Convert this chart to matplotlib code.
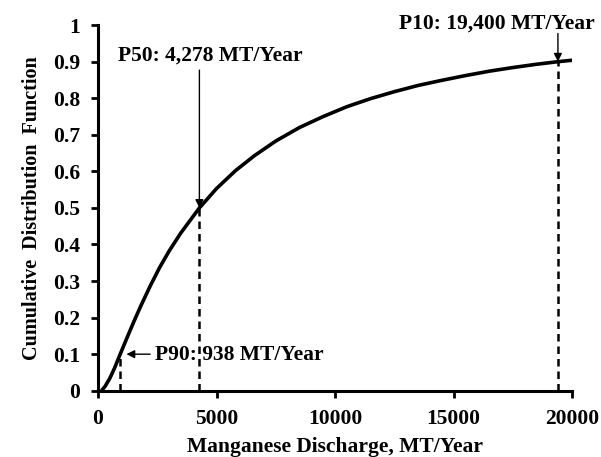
import matplotlib.pyplot as plt

# CDF curve
discharge = [150, 300, 500, 700, 938, 1200, 1500, 1800, 2200, 2600, 3000,
             3500, 4278, 5000, 5800, 6600, 7500, 8500, 9500, 10500, 11500,
             12500, 13500, 14500, 15500, 16500, 17500, 18500, 19400, 20000]
cdf = [0, 0.012, 0.034, 0.062, 0.1, 0.141, 0.187, 0.231, 0.286, 0.337, 0.382,
       0.432, 0.5, 0.553, 0.602, 0.643, 0.683, 0.72, 0.75, 0.777, 0.799,
       0.818, 0.835, 0.849, 0.862, 0.874, 0.884, 0.893, 0.9, 0.904]

# percentile markers
p_labels = ["P90: 938 MT/Year", "P50: 4,278 MT/Year", "P10: 19,400 MT/Year"]
p_values = [938, 4278, 19400]
p_cdf = [0.1, 0.5, 0.9]

x_ticks = [0, 5000, 10000, 15000, 20000]
y_ticks = [0, 0.1, 0.2, 0.3, 0.4, 0.5, 0.6, 0.7, 0.8, 0.9, 1]

plt.rcParams['font.family'] = 'Liberation Serif'
plt.rcParams['font.weight'] = 'bold'

fig = plt.figure(figsize=(6.01, 4.57), dpi=100)
ax = fig.add_axes([0.163, 0.145, 0.789, 0.80])

ax.plot(discharge, cdf, color='black', linewidth=2.6, solid_capstyle='butt',
        solid_joinstyle='round')

# dashed drop lines
for xv, yv in zip(p_values, p_cdf):
    ax.plot([xv, xv], [0, yv], color='black', linewidth=1.8,
            linestyle=(0, (3, 2)))

bold = dict(fontsize=15.5, fontweight='bold', color='black')
arrow = dict(arrowstyle='-|>', color='black', lw=1.0, mutation_scale=12,
             shrinkA=0, shrinkB=0)

# P90: arrow pointing left
ax.annotate("", xy=(1200, p_cdf[0]), xytext=(2200, p_cdf[0]),
            arrowprops=arrow)
ax.text(2400, 0.097, p_labels[0], ha='left', va='center', **bold)
# P50: text above, arrow down
ax.annotate("", xy=(p_values[1], p_cdf[1]), xytext=(p_values[1], 0.877),
            arrowprops=arrow)
ax.text(4740, 0.918, p_labels[1], ha='center', va='center', **bold)
# P10
ax.annotate("", xy=(p_values[2], p_cdf[2]), xytext=(p_values[2], 0.977),
            arrowprops=arrow)
ax.text(16840, 1.005, p_labels[2], ha='center', va='center', clip_on=False,
        **bold)

ax.set_xlim(0, 20000)
ax.set_ylim(0, 1)
ax.set_xticks(x_ticks)
ax.set_yticks(y_ticks)
ax.set_xticklabels([str(t) for t in x_ticks])
ax.set_yticklabels([f"{t:g}" for t in y_ticks])

for side in ['top', 'right']:
    ax.spines[side].set_visible(False)
for side in ['left', 'bottom']:
    ax.spines[side].set_linewidth(2.2)

ax.tick_params(axis='both', direction='out', length=5, width=2,
               labelsize=15.5)
ax.tick_params(axis='x', pad=8)
ax.tick_params(axis='y', pad=8)
for lbl in ax.get_xticklabels() + ax.get_yticklabels():
    lbl.set_fontweight('bold')

ax.set_xlabel("Manganese Discharge, MT/Year", fontsize=15.5,
              fontweight='bold', labelpad=6)
ax.set_ylabel("Cumulative  Distribution  Function", fontsize=14.5,
              fontweight='bold', labelpad=8)

fig.savefig("out.png", dpi=100)
